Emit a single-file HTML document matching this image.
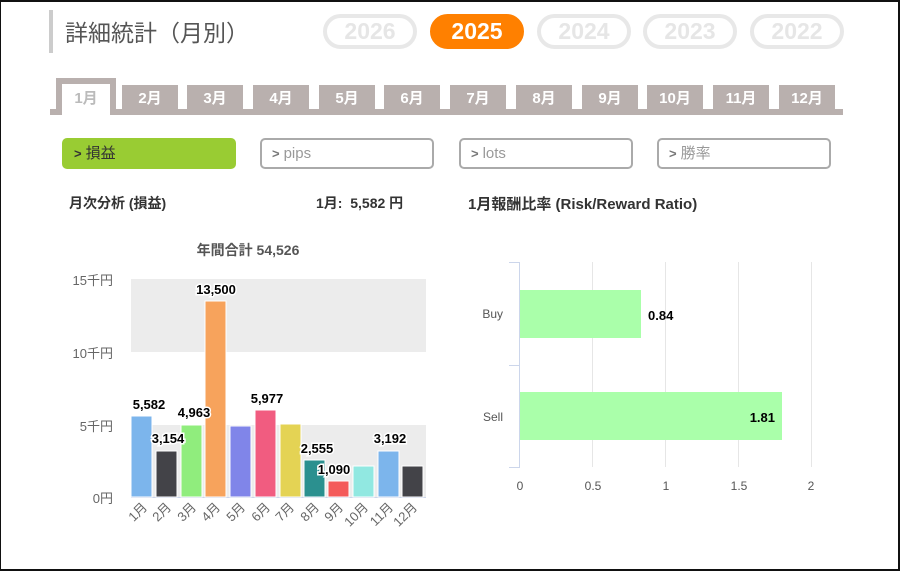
<!DOCTYPE html>
<html><head><meta charset="utf-8"><style>
*{margin:0;padding:0;box-sizing:border-box}
body{width:900px;height:571px;overflow:hidden;background:#fff;font-family:"Liberation Sans","Noto Sans CJK JP",sans-serif;position:relative}
.frame{position:absolute;left:0;top:0;width:900px;height:571px;border:2px solid #111;border-left:1px solid #111}
.a{position:absolute}
.pill{position:absolute;top:14px;width:94px;height:35px;border:4px solid #e8e8e8;border-radius:18px;color:#e6e6e6;font-weight:bold;font-size:23px;text-align:center;line-height:27px}
.tab{position:absolute;top:85px;width:56px;height:26px;background:#b9b0ae;color:#fff;font-weight:bold;font-size:15px;text-align:center;line-height:28px}
.btn{position:absolute;top:138px;width:174px;height:31px;border:2px solid #aaa;border-radius:5px;color:#999;font-size:15px;line-height:27px;padding-left:10px}
.btn b{font-size:13px;color:#777;margin-right:4px}
</style></head><body>
<div class="a" style="left:49px;top:10px;width:4px;height:43px;background:#ccc"></div>
<div class="a" style="left:65px;top:14px;font-size:23px;color:#555">詳細統計（月別）</div>
<div class="pill" style="left:323px">2026</div>
<div class="pill" style="left:430px;background:#ff8000;border-color:#ff8000;color:#fff">2025</div>
<div class="pill" style="left:537px">2024</div>
<div class="pill" style="left:643px">2023</div>
<div class="pill" style="left:750px">2022</div>

<div class="a" style="left:50px;top:109px;width:793px;height:6px;background:#b9b0ae"></div>
<div class="a" style="left:56px;top:78px;width:60px;height:37px;background:#b9b0ae"></div>
<div class="a" style="left:62px;top:84px;width:48px;height:31px;background:#fff;color:#bbb;font-weight:bold;font-size:15px;text-align:center;line-height:30px">1月</div>
<div class="tab" style="left:122px">2月</div>
<div class="tab" style="left:187px">3月</div>
<div class="tab" style="left:253px">4月</div>
<div class="tab" style="left:319px">5月</div>
<div class="tab" style="left:384px">6月</div>
<div class="tab" style="left:450px">7月</div>
<div class="tab" style="left:516px">8月</div>
<div class="tab" style="left:582px">9月</div>
<div class="tab" style="left:647px">10月</div>
<div class="tab" style="left:713px">11月</div>
<div class="tab" style="left:779px">12月</div>

<div class="btn" style="left:62px;background:#99cc33;border-color:#99cc33;color:#333"><b style="color:#333">&gt;</b>損益</div>
<div class="btn" style="left:260px"><b>&gt;</b>pips</div>
<div class="btn" style="left:459px"><b>&gt;</b>lots</div>
<div class="btn" style="left:657px"><b>&gt;</b>勝率</div>

<div class="a" style="left:69px;top:193px;font-size:14px;font-weight:bold;color:#333">月次分析 (損益)</div>
<div class="a" style="left:316px;top:193px;font-size:14px;font-weight:bold;color:#333">1月:&nbsp; 5,582 円</div>
<div class="a" style="left:468px;top:193px;font-size:15px;font-weight:bold;color:#333">1月報酬比率 (Risk/Reward Ratio)</div>

<svg class="a" style="left:0;top:0" width="900" height="571" font-family="Liberation Sans, Noto Sans CJK JP, sans-serif">
<text x="248" y="255" font-size="14" font-weight="bold" fill="#555" text-anchor="middle">年間合計 54,526</text>
<rect x="131" y="279" width="295" height="73" fill="#ececec"/>
<rect x="131" y="425" width="295" height="72" fill="#ececec"/>
<line x1="131" y1="497.5" x2="426" y2="497.5" stroke="#ccd6eb"/>
<g font-size="13" fill="#666" text-anchor="end">
<text x="113" y="285">15千円</text><text x="113" y="358">10千円</text><text x="113" y="431">5千円</text><text x="113" y="503">0円</text>
</g>
<g stroke="#fff" stroke-width="1">
<rect x="131" y="416" width="21" height="81" fill="#7cb5ec"/>
<rect x="156" y="451" width="21" height="46" fill="#434348"/>
<rect x="181" y="425" width="21" height="72" fill="#90ed7d"/>
<rect x="205" y="301" width="21" height="196" fill="#f7a35c"/>
<rect x="230" y="426" width="21" height="71" fill="#8085e9"/>
<rect x="255" y="410" width="21" height="87" fill="#f15c80"/>
<rect x="280" y="424" width="21" height="73" fill="#e4d354"/>
<rect x="304" y="460" width="21" height="37" fill="#2b908f"/>
<rect x="328" y="481" width="21" height="16" fill="#f45b5b"/>
<rect x="353" y="466" width="21" height="31" fill="#91e8e1"/>
<rect x="378" y="451" width="21" height="46" fill="#7cb5ec"/>
<rect x="402" y="466" width="21" height="31" fill="#434348"/>
</g>
<g font-size="13" font-weight="bold" fill="#000" text-anchor="middle" stroke="#fff" stroke-width="3" paint-order="stroke">
<text x="149" y="409">5,582</text><text x="168" y="443">3,154</text><text x="194" y="417">4,963</text>
<text x="216" y="294">13,500</text><text x="267" y="403">5,977</text><text x="317" y="453">2,555</text>
<text x="334" y="474">1,090</text><text x="390" y="443">3,192</text>
</g>
<g font-size="13" fill="#666" text-anchor="end">
<text transform="translate(148,508) rotate(-45)">1月</text><text transform="translate(172,508) rotate(-45)">2月</text>
<text transform="translate(197,508) rotate(-45)">3月</text><text transform="translate(221,508) rotate(-45)">4月</text>
<text transform="translate(246,508) rotate(-45)">5月</text><text transform="translate(271,508) rotate(-45)">6月</text>
<text transform="translate(295,508) rotate(-45)">7月</text><text transform="translate(320,508) rotate(-45)">8月</text>
<text transform="translate(344,508) rotate(-45)">9月</text><text transform="translate(369,508) rotate(-45)">10月</text>
<text transform="translate(394,508) rotate(-45)">11月</text><text transform="translate(418,508) rotate(-45)">12月</text>
</g>

<g stroke="#e6e6e6">
<line x1="592.5" y1="262" x2="592.5" y2="467"/><line x1="665.5" y1="262" x2="665.5" y2="467"/>
<line x1="738.5" y1="262" x2="738.5" y2="467"/><line x1="811.5" y1="262" x2="811.5" y2="467"/>
</g>
<g stroke="#ccd6eb">
<line x1="519.5" y1="262" x2="519.5" y2="467"/>
<line x1="509" y1="262.5" x2="520" y2="262.5"/><line x1="509" y1="365.5" x2="520" y2="365.5"/><line x1="509" y1="467.5" x2="520" y2="467.5"/>
</g>
<rect x="520" y="290" width="121" height="48" fill="#aaffaa"/>
<rect x="520" y="392" width="262" height="48" fill="#aaffaa"/>
<g font-size="13" font-weight="bold" fill="#000">
<text x="648" y="320">0.84</text><text x="775" y="422" text-anchor="end">1.81</text>
</g>
<g font-size="12" fill="#555" text-anchor="end"><text x="503" y="318">Buy</text><text x="503" y="421">Sell</text></g>
<g font-size="12" fill="#555" text-anchor="middle">
<text x="520" y="490">0</text><text x="593" y="490">0.5</text><text x="666" y="490">1</text><text x="739" y="490">1.5</text><text x="811" y="490">2</text>
</g>
</svg>
<div class="frame"></div>
</body></html>
